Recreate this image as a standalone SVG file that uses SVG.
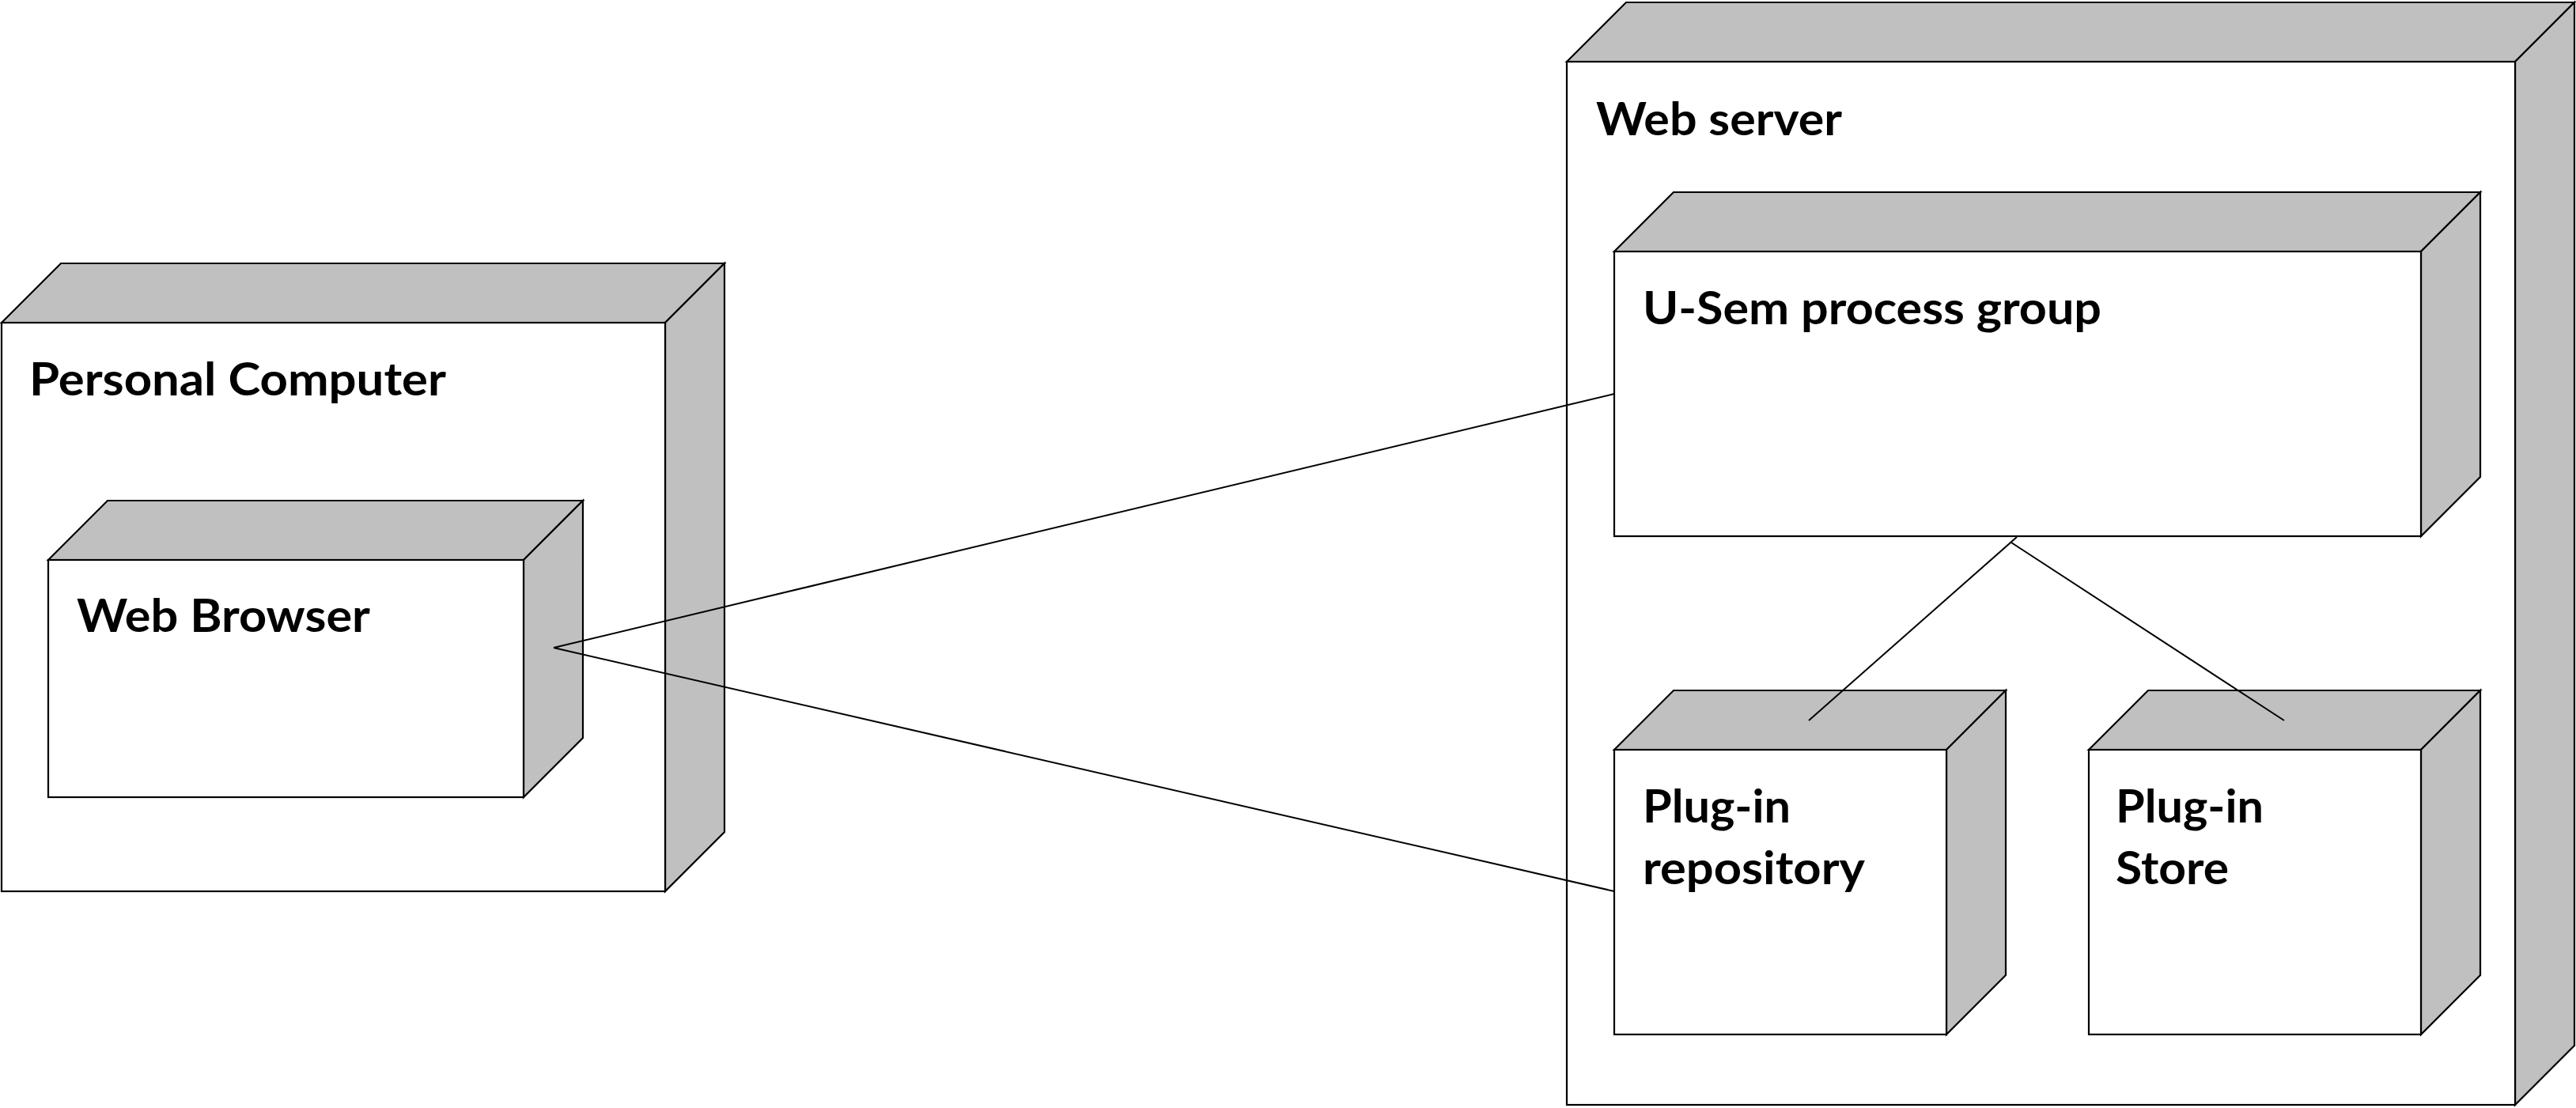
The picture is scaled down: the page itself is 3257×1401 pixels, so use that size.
<svg xmlns="http://www.w3.org/2000/svg" width="3257" height="1401" viewBox="0 0 3257 1401">
<style>
.front{fill:#ffffff;stroke:#000;stroke-width:2.2}
.shade{fill:#c0c0c0;stroke:#000;stroke-width:2.2;stroke-linejoin:miter}
.lbl{font-family:Lato,"Open Sans","Liberation Sans",sans-serif;font-weight:bold;font-size:57px;fill:#000}
.conn{stroke:#000;stroke-width:2;fill:none}
</style>
<rect width="3257" height="1401" fill="#fff"/>
<g id="personal-computer">
<polygon class="shade" points="2,408 77,333 916,333 841,408"/>
<polygon class="shade" points="841,408 916,333 916,1052 841,1127"/>
<rect class="front" x="2" y="408" width="839" height="719"/>
<text class="lbl" x="37" y="500" textLength="527" lengthAdjust="spacingAndGlyphs">Personal Computer</text>
</g>
<g id="web-browser">
<polygon class="shade" points="61,708 136,633 737,633 662,708"/>
<polygon class="shade" points="662,708 737,633 737,933 662,1008"/>
<rect class="front" x="61" y="708" width="601" height="300"/>
<text class="lbl" x="97" y="799" textLength="371" lengthAdjust="spacingAndGlyphs">Web Browser</text>
</g>
<g id="web-server">
<polygon class="shade" points="1981,78 2056,3 3255,3 3180,78"/>
<polygon class="shade" points="3180,78 3255,3 3255,1322 3180,1397"/>
<rect class="front" x="1981" y="78" width="1199" height="1319"/>
<text class="lbl" x="2018" y="171" textLength="311" lengthAdjust="spacingAndGlyphs">Web server</text>
</g>
<g id="usem-process-group">
<polygon class="shade" points="2041,318 2116,243 3136,243 3061,318"/>
<polygon class="shade" points="3061,318 3136,243 3136,603 3061,678"/>
<rect class="front" x="2041" y="318" width="1020" height="360"/>
<text class="lbl" x="2077" y="410" textLength="580" lengthAdjust="spacingAndGlyphs">U-Sem process group</text>
</g>
<g id="plugin-repository">
<polygon class="shade" points="2041,948 2116,873 2536,873 2461,948"/>
<polygon class="shade" points="2461,948 2536,873 2536,1233 2461,1308"/>
<rect class="front" x="2041" y="948" width="420" height="360"/>
<text class="lbl" x="2077" y="1040" textLength="187" lengthAdjust="spacingAndGlyphs">Plug-in</text>
<text class="lbl" x="2077" y="1118" textLength="281" lengthAdjust="spacingAndGlyphs">repository</text>
</g>
<g id="plugin-store">
<polygon class="shade" points="2641,948 2716,873 3136,873 3061,948"/>
<polygon class="shade" points="3061,948 3136,873 3136,1233 3061,1308"/>
<rect class="front" x="2641" y="948" width="420" height="360"/>
<text class="lbl" x="2675" y="1040" textLength="187" lengthAdjust="spacingAndGlyphs">Plug-in</text>
<text class="lbl" x="2675" y="1118" textLength="143" lengthAdjust="spacingAndGlyphs">Store</text>
</g>
<g id="connectors">
<line class="conn" x1="700" y1="819" x2="2041" y2="498"/>
<line class="conn" x1="700" y1="819" x2="2041" y2="1127"/>
<line class="conn" x1="2550" y1="679" x2="2287" y2="911"/>
<line class="conn" x1="2543" y1="686" x2="2888" y2="911"/>
</g>
</svg>
